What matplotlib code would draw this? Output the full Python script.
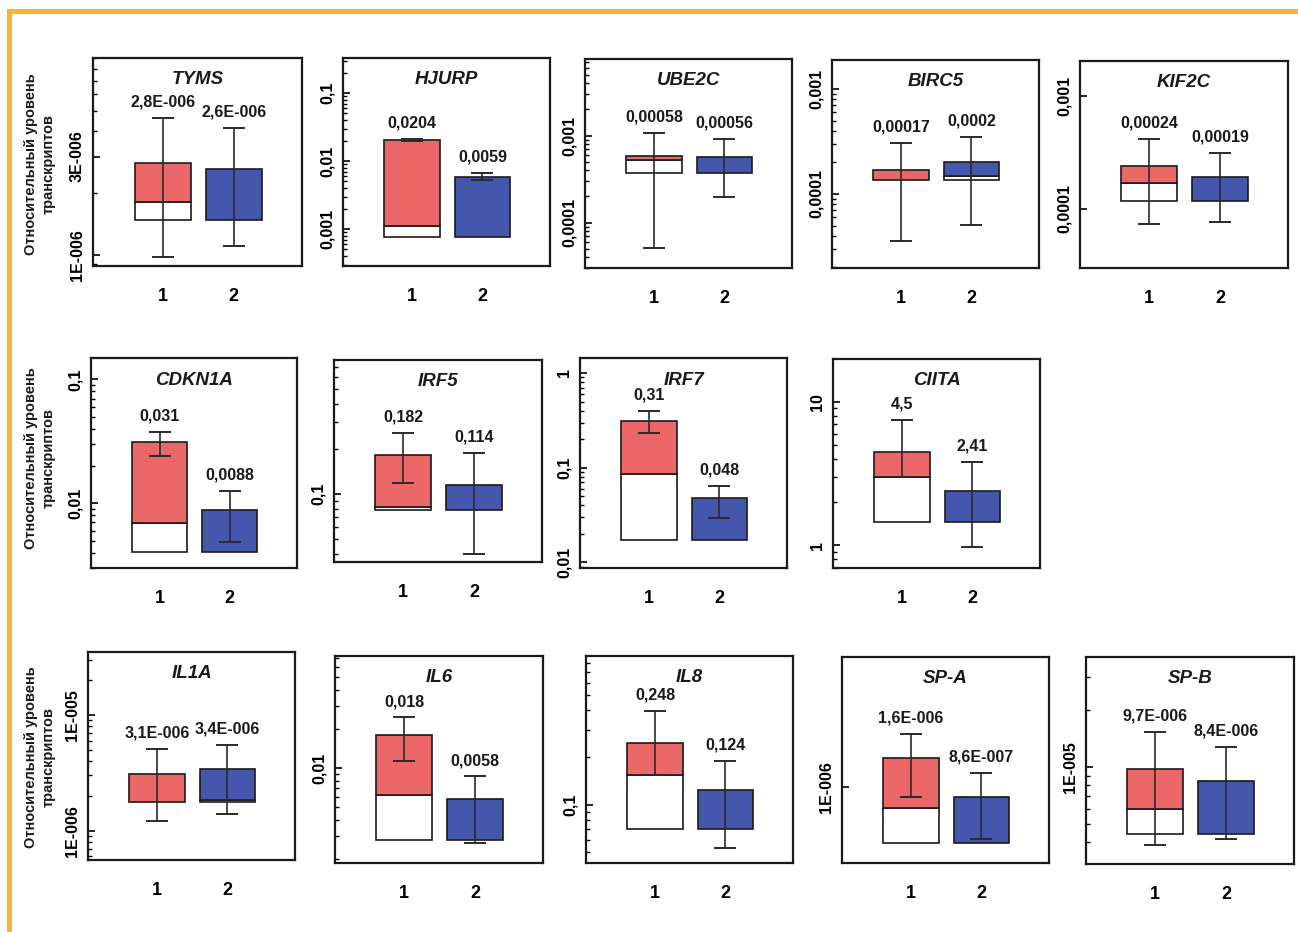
import numpy as np
import matplotlib.pyplot as plt
from matplotlib.ticker import FixedLocator, LogLocator, NullFormatter
from matplotlib.patches import Rectangle

plt.rcParams['font.family'] = ['Liberation Sans Narrow', 'Liberation Sans', 'DejaVu Sans']

# genes, one panel each (rows of 5 / 4 / 5)
genes = ['TYMS', 'HJURP', 'UBE2C', 'BIRC5', 'KIF2C',
         'CDKN1A', 'IRF5', 'IRF7', 'CIITA',
         'IL1A', 'IL6', 'IL8', 'SP-A', 'SP-B']

# printed values (group 1 / group 2) -> bar tops
lab1 = ['2,8E-006', '0,0204', '0,00058', '0,00017', '0,00024',
        '0,031', '0,182', '0,31', '4,5',
        '3,1E-006', '0,018', '0,248', '1,6E-006', '9,7E-006']
lab2 = ['2,6E-006', '0,0059', '0,00056', '0,0002', '0,00019',
        '0,0088', '0,114', '0,048', '2,41',
        '3,4E-006', '0,0058', '0,124', '8,6E-007', '8,4E-006']

# lower edge of the boxes (common per panel)
base = [1.48e-6, 7.6e-4, 3.7e-4, 1.36e-4, 1.17e-4,
        4.03e-3, 0.0782, 0.0172, 1.445,
        1.76e-6, 2.79e-3, 0.0704, 4.13e-7, 4.4e-6]
# level where the coloured part ends and the white part starts
split1 = [1.81e-6, 1.1e-3, 5.26e-4, 1.36e-4, 1.71e-4,
          6.9e-3, 0.0815, 0.0851, 3.01,
          1.76e-6, 6.17e-3, 0.1536, 7.22e-7, 5.97e-6]
split2 = [1.48e-6, 7.6e-4, 3.7e-4, 1.48e-4, 1.17e-4,
          4.03e-3, 0.0782, 0.0172, 1.445,
          1.84e-6, 2.79e-3, 0.0704, 4.13e-7, 4.4e-6]

# whiskers (low, high)
err1 = [(0.98e-6, 4.62e-6), (0.0195, 0.021), (5.1e-5, 1.08e-3), (3.56e-5, 3.04e-4), (7.4e-5, 4.16e-4),
        (0.0242, 0.0374), (0.119, 0.256), (0.231, 0.397), (3.01, 7.46),
        (1.21e-6, 5.05e-6), (0.01143, 0.0245), (0.1536, 0.398), (8.6e-7, 2.33e-6), (3.85e-6, 1.53e-5)]
err2 = [(1.1e-6, 4.14e-6), (0.0053, 0.00666), (1.96e-4, 9.2e-4), (5.1e-5, 3.5e-4), (7.7e-5, 3.11e-4),
        (4.9e-3, 0.01264), (0.0396, 0.188), (0.0296, 0.0645), (0.969, 3.83),
        (1.39e-6, 5.5e-6), (2.67e-3, 8.63e-3), (0.053, 0.191), (4.36e-7, 1.26e-6), (4.13e-6, 1.27e-5)]

ylims = [(0.885e-6, 9.0e-6), (2.86e-4, 0.327), (3.0e-5, 7.6e-3), (1.97e-5, 1.89e-3), (3.0e-5, 2.04e-3),
         (3.0e-3, 0.1486), (0.0352, 0.782), (0.00873, 1.44), (0.697, 19.8),
         (5.58e-7, 3.5e-5), (1.875e-3, 0.0723), (0.0426, 0.885), (2.98e-7, 7.99e-6), (3.06e-6, 3.82e-5)]

yticks = [[1e-6, 3e-6], [1e-3, 1e-2, 1e-1], [1e-4, 1e-3], [1e-4, 1e-3], [1e-4, 1e-3],
          [0.01, 0.1], [0.1], [0.01, 0.1, 1], [1, 10],
          [1e-6, 1e-5], [0.01], [0.1], [1e-6], [1e-5]]
yticklabels = [['1E-006', '3E-006'], ['0,001', '0,01', '0,1'], ['0,0001', '0,001'], ['0,0001', '0,001'],
               ['0,0001', '0,001'],
               ['0,01', '0,1'], ['0,1'], ['0,01', '0,1', '1'], ['1', '10'],
               ['1E-006', '1E-005'], ['0,01'], ['0,1'], ['1E-006'], ['1E-005']]
minor_on = [True, True, True, True, False,
            True, True, True, True,
            True, True, True, False, True]

groups = ['1', '2']
ylabel = 'Относительный уровень\nтранскриптов'

# axes frames in pixels: left, top, right, bottom
frames = [(93, 58, 302, 266), (343, 58, 550, 266), (585, 59, 792, 268), (832, 60, 1039, 268), (1080, 61, 1288, 268),
          (91, 358, 297, 568), (334, 360, 542, 562), (580, 358, 787, 568), (833, 359, 1040, 568),
          (88, 652, 295, 860), (335, 656, 543, 863), (586, 656, 793, 863), (842, 657, 1049, 863), (1086, 657, 1294, 864)]

W, H = 1298, 932
RED = '#EC6767'
BLUE = '#4457AC'
ORANGE = '#F8B42C'
INK = '#1a1a1a'

fig = plt.figure(figsize=(W / 100, H / 100), dpi=100)
fig.patch.set_facecolor('white')

def to_float(s):
    return float(s.replace(',', '.'))

for i, g in enumerate(genes):
    l, t, r, b = frames[i]
    ax = fig.add_axes([l / W, 1 - b / H, (r - l) / W, (b - t) / H])
    ax.set_yscale('log')
    ax.set_xlim(0.02, 2.96)
    ax.set_ylim(*ylims[i])

    tops = [to_float(lab1[i]), to_float(lab2[i])]
    splits = [split1[i], split2[i]]
    errs = [err1[i], err2[i]]
    labs = [lab1[i], lab2[i]]
    cols = [RED, BLUE]
    for k in range(2):
        x = k + 1
        # white lower part, coloured upper part
        if splits[k] > base[i]:
            ax.bar(x, splits[k] - base[i], bottom=base[i], width=0.79, color='white',
                   edgecolor=INK, linewidth=1.2, zorder=2)
        ax.bar(x, tops[k] - splits[k], bottom=splits[k], width=0.79, color=cols[k],
               edgecolor=INK, linewidth=1.2, zorder=2)
        lo, hi = errs[k]
        ax.errorbar(x, tops[k], yerr=[[tops[k] - lo], [hi - tops[k]]], fmt='none',
                    ecolor='#2a2a2a', elinewidth=1.2, capsize=8, capthick=1.4, zorder=3)
        ax.annotate(labs[k], xy=(x, hi), xytext=(0, 6), textcoords='offset points',
                    ha='center', va='bottom', fontsize=11.5, fontweight='bold', color=INK)

    ax.text(0.5, 0.895, g, transform=ax.transAxes, ha='center', va='center',
            fontsize=13.5, fontweight='bold', style='italic', color=INK)

    ax.yaxis.set_major_locator(FixedLocator(yticks[i]))
    ax.set_yticklabels(yticklabels[i], rotation=90, va='center')
    if minor_on[i]:
        ax.yaxis.set_minor_locator(LogLocator(base=10, subs=np.arange(2, 10), numticks=20))
    else:
        ax.yaxis.set_minor_locator(FixedLocator([]))
    ax.yaxis.set_minor_formatter(NullFormatter())
    ax.tick_params(axis='y', which='major', direction='in', length=5, width=1.2,
                   pad=6, labelsize=11.5)
    ax.tick_params(axis='y', which='minor', direction='in', length=3, width=1.0)
    for lbl in ax.get_yticklabels():
        lbl.set_fontweight('bold')

    ax.set_xticks([1, 2])
    ax.set_xticklabels(groups)
    ax.tick_params(axis='x', length=0, pad=16, labelsize=13)
    for lbl in ax.get_xticklabels():
        lbl.set_fontweight('bold')

    for s in ax.spines.values():
        s.set_linewidth(1.6)
        s.set_color(INK)

# row captions
for yc in [164, 458, 757]:
    fig.text(40 / W, 1 - yc / H, ylabel, rotation=90, ha='center', va='center',
             multialignment='center', fontsize=10.5, fontweight='bold', color=INK,
             linespacing=1.35)

# orange frame on the left and top
fig.add_artist(Rectangle((7 / W, 0), 5 / W, 1 - 9 / H, transform=fig.transFigure,
                         color=ORANGE, lw=0))
fig.add_artist(Rectangle((7 / W, 1 - 14 / H), 1 - 7 / W, 5 / H, transform=fig.transFigure,
                         color=ORANGE, lw=0))

fig.savefig('out.png', dpi=100)
